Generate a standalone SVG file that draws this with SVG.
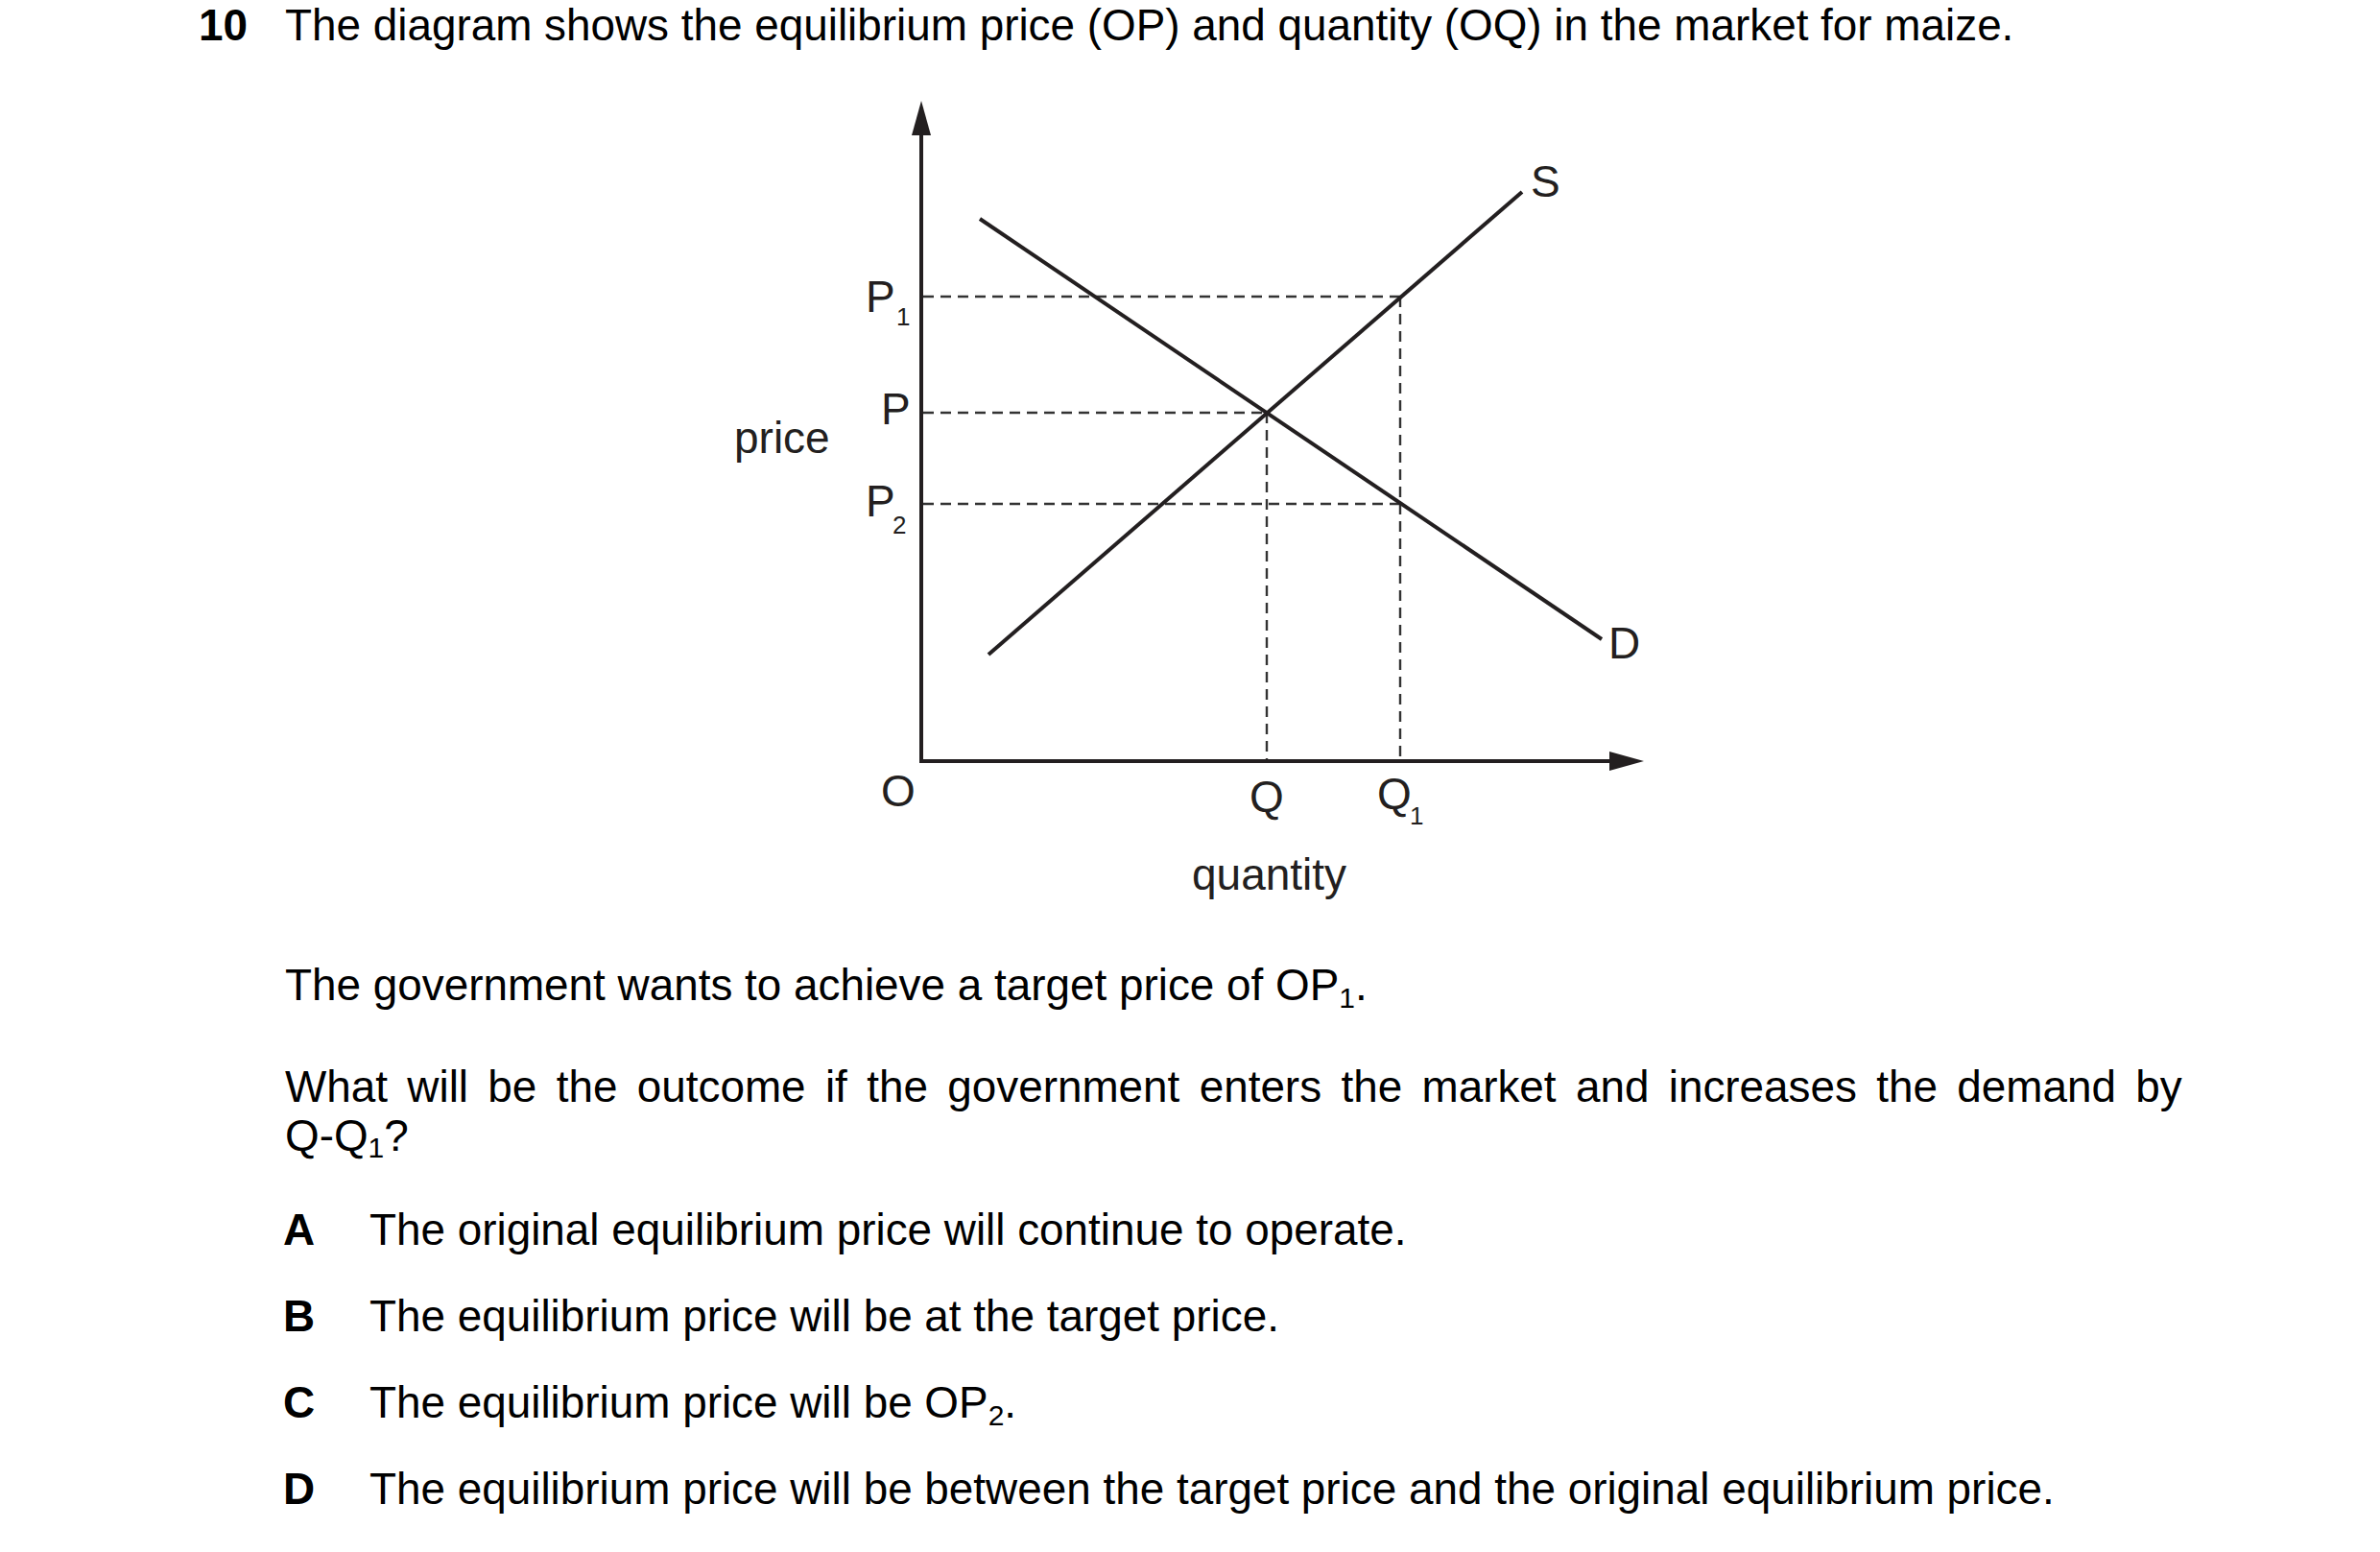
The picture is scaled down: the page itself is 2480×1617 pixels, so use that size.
<svg xmlns="http://www.w3.org/2000/svg" width="2480" height="1617" viewBox="0 0 2480 1617">
  <style>
    text { font-family: "Liberation Sans", Arial, sans-serif; font-size: 45.85px; fill: #000; }
    .lbl { fill: #231f20; font-size: 46px; }
    .sub { font-size: 26px; }
    .bsub { font-size: 30px; }
    .b { font-weight: bold; }
    .axis { stroke: #231f20; stroke-width: 4; fill: none; }
    .curve { stroke: #231f20; stroke-width: 4; fill: none; }
    .dash { stroke: #333; stroke-width: 2.4; fill: none; stroke-dasharray: 11 7; }
  </style>
  <rect width="2480" height="1617" fill="#fff"/>

  <g id="title">
    <text x="207" y="42" class="b">10</text>
    <text x="297" y="42">The diagram shows the equilibrium price (OP) and quantity (OQ) in the market for maize.</text>
  </g>

  <g id="guides">
    <line class="dash" x1="962" y1="309" x2="1460" y2="309"/>
    <line class="dash" x1="962" y1="430" x2="1320" y2="430"/>
    <line class="dash" x1="962" y1="525" x2="1460" y2="525"/>
    <line class="dash" x1="1320" y1="430" x2="1320" y2="791"/>
    <line class="dash" x1="1459" y1="309" x2="1459" y2="791"/>
  </g>

  <g id="axes">
    <polyline class="axis" points="960,138 960,793 1680,793"/>
    <polygon points="960,105 950,141 970,141" fill="#231f20"/>
    <polygon points="1713,793 1677,783 1677,803" fill="#231f20"/>
  </g>

  <g id="curves">
    <line id="demand" class="curve" x1="1021" y1="228" x2="1669" y2="666"/>
    <line id="supply" class="curve" x1="1030" y1="682" x2="1586" y2="200"/>
  </g>

  <g id="labels">
    <text class="lbl" x="902" y="325">P</text><text class="lbl sub" x="934" y="339">1</text>
    <text class="lbl" x="918" y="442">P</text>
    <text class="lbl" x="902" y="538">P</text><text class="lbl sub" x="930" y="556">2</text>
    <text class="lbl" x="765" y="472">price</text>
    <text class="lbl" x="918" y="840">O</text>
    <text class="lbl" x="1302" y="846">Q</text>
    <text class="lbl" x="1435" y="843">Q</text><text class="lbl sub" x="1469" y="859">1</text>
    <text class="lbl" x="1242" y="927">quantity</text>
    <text class="lbl" x="1595" y="205">S</text>
    <text class="lbl" x="1676" y="686">D</text>
  </g>

  <g id="question">
    <text x="297" y="1042">The government wants to achieve a target price of OP<tspan class="bsub" dy="8">1</tspan><tspan dy="-8">.</tspan></text>
    <text x="297" y="1148" word-spacing="7.6">What will be the outcome if the government enters the market and increases the demand by</text>
    <text x="297" y="1199">Q-Q<tspan class="bsub" dy="7">1</tspan><tspan dy="-7">?</tspan></text>
  </g>

  <g id="options">
    <text x="295" y="1297" class="b">A</text>
    <text x="385" y="1297">The original equilibrium price will continue to operate.</text>
    <text x="295" y="1387" class="b">B</text>
    <text x="385" y="1387">The equilibrium price will be at the target price.</text>
    <text x="295" y="1477" class="b">C</text>
    <text x="385" y="1477">The equilibrium price will be OP<tspan class="bsub" dy="8">2</tspan><tspan dy="-8">.</tspan></text>
    <text x="295" y="1567" class="b">D</text>
    <text x="385" y="1567">The equilibrium price will be between the target price and the original equilibrium price.</text>
  </g>
</svg>
